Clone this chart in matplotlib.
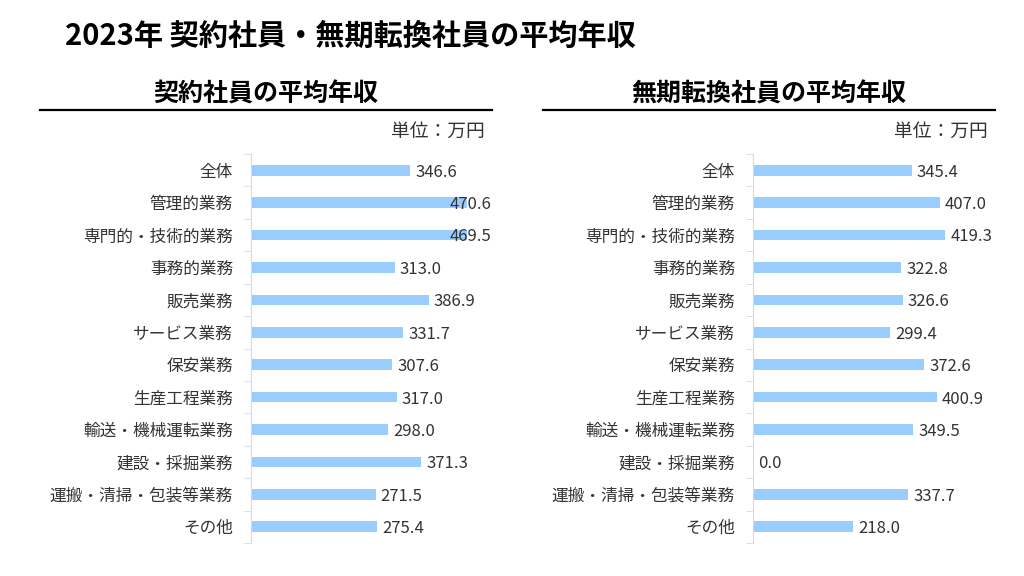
import matplotlib.pyplot as plt
import numpy as np

plt.rcParams['font.family'] = ['Noto Sans CJK JP', 'DejaVu Sans']

# data
categories = ['全体', '管理的業務', '専門的・技術的業務', '事務的業務', '販売業務', 'サービス業務',
              '保安業務', '生産工程業務', '輸送・機械運転業務', '建設・採掘業務',
              '運搬・清掃・包装等業務', 'その他']
contract = [346.6, 470.6, 469.5, 313.0, 386.9, 331.7, 307.6, 317.0, 298.0, 371.3, 271.5, 275.4]
converted = [345.4, 407.0, 419.3, 322.8, 326.6, 299.4, 372.6, 400.9, 349.5, 0.0, 337.7, 218.0]
panel_titles = ['契約社員の平均年収', '無期転換社員の平均年収']

W, H = 1024, 576
fig = plt.figure(figsize=(W / 100, H / 100), dpi=100)
fig.text(65 / W, 1 - 36 / H, '2023年 契約社員・無期転換社員の平均年収',
         fontsize=21, fontweight='bold', va='center', ha='left')

bar_color = '#99CCFF'
scale = 0.459  # px per unit
for i, (vals, ttl) in enumerate(zip([contract, converted], panel_titles)):
    x0 = 251 if i == 0 else 753
    width_px = 240 if i == 0 else 245
    line_l = 40 if i == 0 else 543
    line_r = 492 if i == 0 else 995
    # panel title and rule
    fig.text((line_l + line_r) / 2 / W, 1 - 94 / H, ttl, fontsize=18, fontweight='bold',
             ha='center', va='center')
    fig.add_artist(plt.Line2D([line_l / W, line_r / W], [1 - 110 / H, 1 - 110 / H],
                              color='black', lw=1.6))
    fig.text((line_r - 7) / W, 1 - 131 / H, '単位：万円', fontsize=13.5, ha='right',
             va='center', color='#333333')

    top, bottom = 154, 543
    ax = fig.add_axes([x0 / W, 1 - bottom / H, width_px / W, (bottom - top) / H])
    y = np.arange(len(categories))
    ax.barh(y, vals, height=0.33, color=bar_color)
    ax.set_ylim(len(categories) - 0.5, -0.5)
    xmax = width_px / scale
    ax.set_xlim(0, xmax)
    for yy, v in zip(y, vals):
        if v + 11 + 44 / scale > xmax:
            ax.text(xmax, yy + 0.06, f'{v:.1f}', va='center', ha='right', fontsize=12, color='#333333')
        else:
            ax.text(v + 11, yy + 0.06, f'{v:.1f}', va='center', ha='left', fontsize=12, color='#333333')
    ax.set_yticks(y)
    ax.set_yticklabels(categories, fontsize=12, color='#333333')
    ax.set_yticks(np.arange(-0.5, len(categories), 1), minor=True)
    ax.tick_params(axis='y', which='major', length=0, pad=13)
    ax.tick_params(axis='y', which='minor', length=5, color='#D9D9D9')
    ax.set_xticks([])
    for s in ['top', 'right', 'bottom']:
        ax.spines[s].set_visible(False)
    ax.spines['left'].set_color('#D9D9D9')

fig.savefig('out.png', dpi=100)
